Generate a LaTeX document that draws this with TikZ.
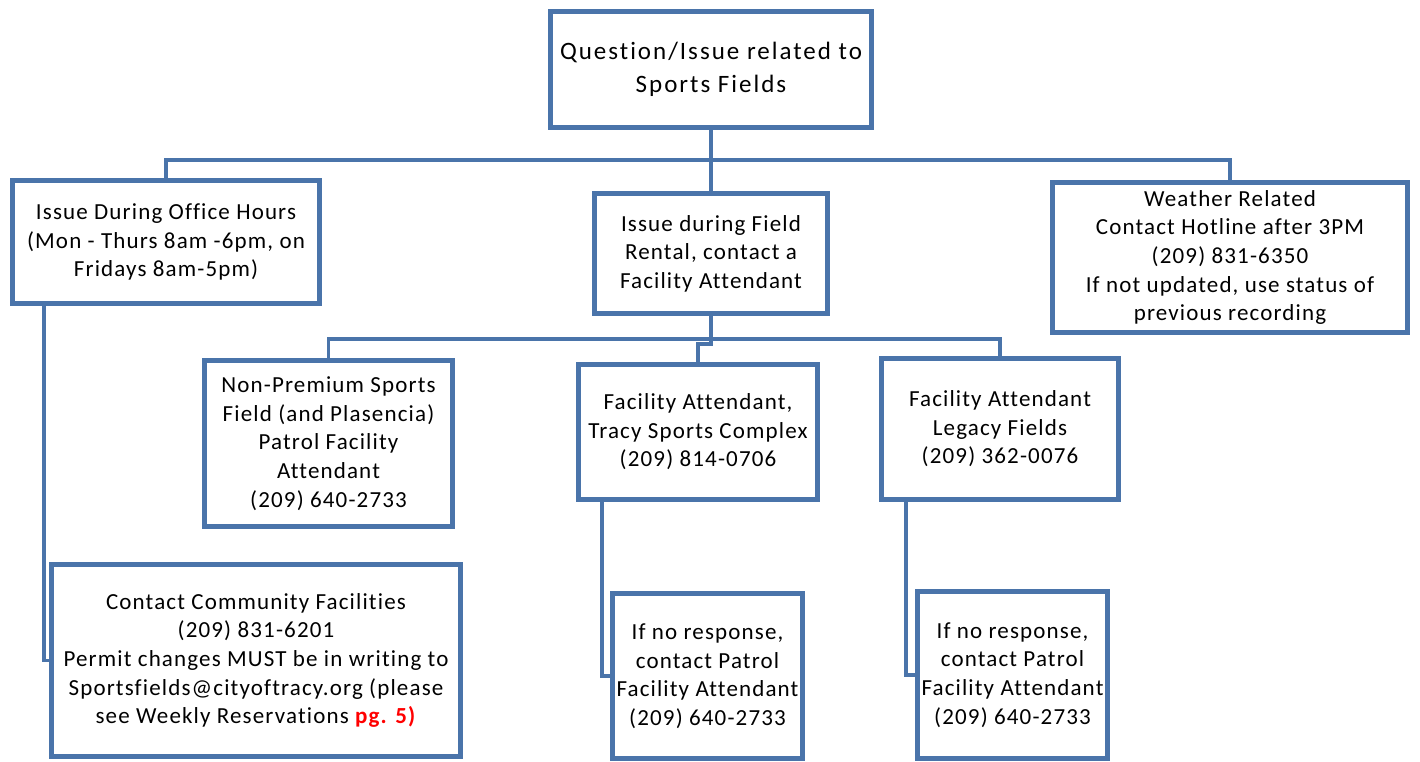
\documentclass[tikz,border=0pt]{standalone}
\usepackage{fontspec}
\setmainfont{Carlito}[LetterSpace=5, Ligatures=NoCommon]
\usetikzlibrary{shadows}
\definecolor{chartblue}{HTML}{4A74AA}
\definecolor{pgred}{HTML}{FF0000}

\begin{document}
\begin{tikzpicture}[
    x=0.5pt, y=-0.5pt,
    box/.style={rectangle, draw=chartblue, line width=2.5pt, fill=white, align=center, inner sep=2pt,
        font=\fontsize{11.5}{14.3}\selectfont,
        execute at begin node={\rule{0pt}{11pt}},
        drop shadow={opacity=0.25, shadow xshift=1pt, shadow yshift=-1pt}},
    link/.style={draw=chartblue, line width=1.6pt}
]
\useasboundingbox (0,0) rectangle (1420,761);

% Connectors
\coordinate (topbar) at (711,160);
\coordinate (midbar) at (711,339);

% Boxes
\node[box, minimum width=160.5pt, minimum height=58pt, font=\fontsize{12.5}{16.5}\selectfont\addfontfeatures{LetterSpace=8}] (question) at (711,69)
    {Question/Issue related to\\Sports Fields};
\node[box, minimum width=153.5pt, minimum height=61.5pt] (office) at (166,242)
    {Issue During Office Hours\\(Mon - Thurs 8am -6pm, on\\Fridays 8am-5pm)};
\node[box, minimum width=116.5pt, minimum height=60pt] (rental) at (711,253.5)
    {Issue during Field\\Rental, contact a\\Facility Attendant};
\node[box, minimum width=177.5pt, minimum height=75pt] (weather) at (1230,257.5)
    {Weather Related\\Contact Hotline after 3PM\\(209) 831-6350\\If not updated, use status of\\previous recording};
\node[box, minimum width=124pt, minimum height=83pt] (nonpremium) at (328.5,443.5)
    {Non-Premium Sports\\Field (and Plasencia)\\Patrol Facility\\Attendant\\(209) 640-2733};
\node[box, minimum width=119.5pt, minimum height=67.5pt] (tracy) at (698,432)
    {Facility Attendant,\\Tracy Sports Complex\\(209) 814-0706};
\node[box, minimum width=118.5pt, minimum height=70.5pt] (legacy) at (1000,429)
    {Facility Attendant\\Legacy Fields\\(209) 362-0076};
\node[box, minimum width=204.5pt, minimum height=96pt] (community) at (256,660.5)
    {Contact Community Facilities\\(209) 831-6201\\Permit changes MUST be in writing to\\Sportsfields@cityoftracy.org (please\\see Weekly Reservations \textcolor{pgred}{\textbf{pg. 5)}}};
\node[box, minimum width=95pt, minimum height=82.5pt] (patrolA) at (707.5,676)
    {If no response,\\contact Patrol\\Facility Attendant\\(209) 640-2733};
\node[box, minimum width=95pt, minimum height=83.5pt] (patrolB) at (1012.5,675)
    {If no response,\\contact Patrol\\Facility Attendant\\(209) 640-2733};

% Links from the question
\draw[link] (question.south) -- (rental.north);
\draw[link] (office.north) |- (topbar) -| (weather.north);

% Links from the rental box
\draw[link] (rental.south) -- (midbar);
\draw[link] (nonpremium.north) |- (midbar) -| (legacy.north);
\draw[link] (midbar) -- ++(0,5) -| (tracy.north);

% Side links
\draw[link] ([xshift=-61pt]office.south) |- (community.west);
\draw[link] ([xshift=-48pt]tracy.south) |- (patrolA.west);
\draw[link] ([xshift=-47pt]legacy.south) |- (patrolB.west);
\end{tikzpicture}
\end{document}
